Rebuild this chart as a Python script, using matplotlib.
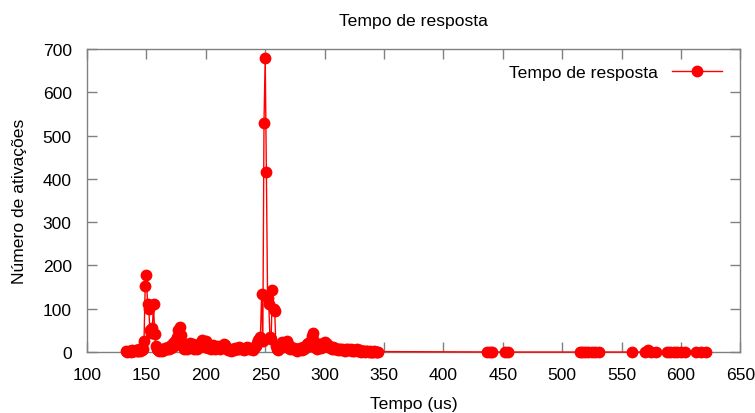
import matplotlib
matplotlib.use("Agg")
import matplotlib.pyplot as plt

plt.rcParams['font.family'] = ['Liberation Sans', 'DejaVu Sans']

# Response time (us) and number of activations
tempo = list(range(133, 346)) + [437, 439, 441, 452, 454,
                                   515, 517, 519, 522, 525, 528, 531,
                                   559, 570, 572, 575, 579,
                                   588, 591, 594, 597, 600, 603,
                                   613, 617, 621]

ativ_main = [
    # 133-147
    2, 1, 3, 2, 1, 4, 2, 3, 5, 2, 3, 6, 3, 4, 8,
    # 148-157
    25, 152, 178, 110, 100, 50, 45, 55, 110, 42,
    # 158-177
    15, 8, 4, 2, 5, 3, 7, 5, 9, 6, 12, 8, 15, 10, 20, 14, 25, 18, 35, 52,
    # 178-197
    58, 40, 22, 15, 8, 12, 6, 10, 15, 20, 12, 18, 8, 10, 15, 8, 12, 18, 22, 28,
    # 198-217
    20, 12, 25, 15, 10, 14, 6, 10, 16, 12, 8, 10, 15, 10, 8, 12, 14, 18, 16, 10,
    # 218-237
    8, 4, 6, 3, 5, 8, 4, 10, 6, 8, 12, 6, 10, 8, 5, 8, 10, 12, 8, 10,
    # 238-247
    6, 8, 5, 10, 15, 20, 28, 30, 35, 135,
    # 248-262
    25, 530, 680, 415, 125, 110, 35, 30, 143, 100, 95, 15, 8, 5, 10,
    # 263-282
    18, 22, 12, 15, 20, 25, 18, 10, 8, 12, 6, 10, 8, 5, 3, 8, 10, 6, 4, 12,
    # 283-302
    8, 15, 18, 20, 15, 22, 38, 45, 25, 18, 10, 8, 12, 15, 10, 18, 20, 22, 15, 18,
    # 303-322
    12, 15, 10, 8, 12, 6, 10, 8, 5, 8, 6, 4, 8, 5, 3, 6, 4, 8, 5, 7,
    # 323-345
    3, 5, 2, 4, 6, 3, 2, 4, 1, 3, 2, 1, 3, 2, 1, 2, 1, 0, 1, 2, 1, 0, 1,
]
ativ_tail = [0, 0, 0, 0, 0,
             0, 0, 0, 0, 0, 0, 0,
             0, 0, 4, 0, 0,
             0, 0, 0, 0, 0, 0,
             0, 0, 0]
ativ = ativ_main + ativ_tail

FS = 12.6

fig = plt.figure(figsize=(7.55, 4.14), dpi=100)
ax = fig.add_axes([0.1152, 0.1473, 0.8655, 0.7319])

ax.plot(tempo, ativ, color='red', lw=1.0, marker='o', markersize=8.5,
        markeredgewidth=0, label='Tempo de resposta', clip_on=False, zorder=3)

ax.set_xlim(100, 650)
ax.set_ylim(0, 700)
ax.set_xticks(range(100, 651, 50))
ax.set_yticks(range(0, 701, 100))

gray = '#808080'
for s in ax.spines.values():
    s.set_color(gray)
    s.set_linewidth(1.0)
ax.tick_params(direction='in', length=7, width=1, color=gray,
               top=True, right=True, labelsize=FS, labelcolor='black')
ax.tick_params(axis='y', pad=11)
ax.tick_params(axis='x', pad=11)

ax.set_title('Tempo de resposta', fontsize=FS, pad=17)
ax.set_xlabel('Tempo (us)', fontsize=FS, labelpad=10)
ax.set_ylabel('Número de ativações', fontsize=FS, labelpad=11)

leg = ax.legend(loc='upper right', frameon=False, fontsize=FS,
                markerfirst=False, handlelength=2.9, handletextpad=0.8,
                bbox_to_anchor=(1.003, 1.013), borderaxespad=0.75)

fig.savefig('out.png', dpi=100)
